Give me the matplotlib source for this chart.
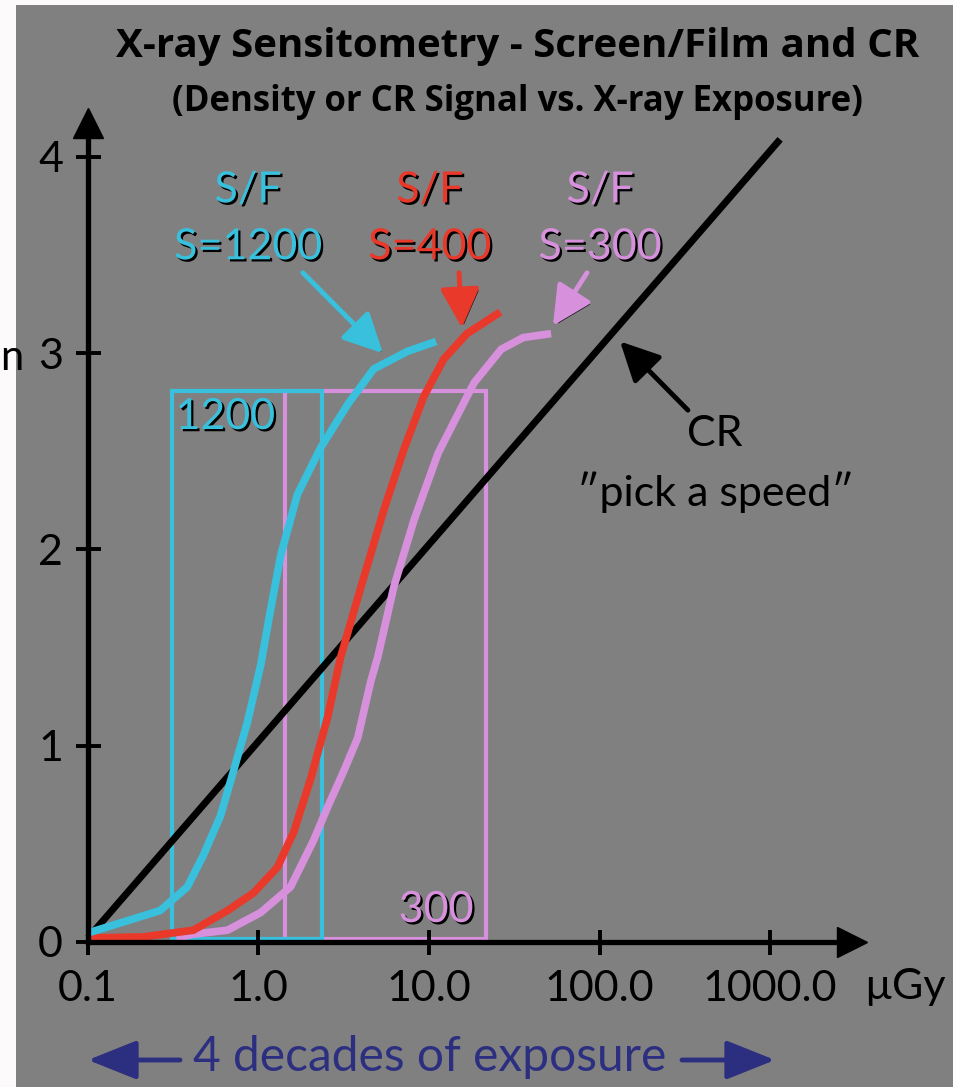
import numpy as np
import matplotlib
matplotlib.use("Agg")
import matplotlib.pyplot as plt
import matplotlib.patheffects as pe
from matplotlib.patches import Rectangle, FancyArrowPatch
from matplotlib.ticker import NullLocator

plt.rcParams['font.family'] = ['Lato', 'DejaVu Sans']

# exposure (uGy) and density / signal
cr_x = [0.1, 1146]
cr_y = [0.02, 4.09]

sf1200_x = [0.1, 0.265, 0.382, 0.474, 0.597, 0.713, 0.861, 1.03, 1.17, 1.35, 1.69, 2.32, 3.34, 4.74, 7.5, 11.0]
sf1200_y = [0.046, 0.16, 0.28, 0.44, 0.64, 0.87, 1.12, 1.41, 1.68, 1.97, 2.28, 2.52, 2.74, 2.92, 3.01, 3.06]

sf400_x = [0.1, 0.211, 0.415, 0.658, 0.935, 1.29, 1.61, 2.02, 2.55, 3.03, 4.15, 5.43, 7.12, 9.33, 12.2, 16.7, 26.2]
sf400_y = [0.02, 0.026, 0.06, 0.16, 0.25, 0.38, 0.56, 0.83, 1.15, 1.45, 1.86, 2.2, 2.51, 2.78, 2.97, 3.10, 3.21]

sf300_x = [0.33, 0.415, 0.658, 1.03, 1.54, 2.11, 2.55, 3.16, 3.82, 4.56, 5.0, 6.22, 8.17, 11.3, 14.8, 18.4, 26.5, 35.7, 52]
sf300_y = [0.02, 0.04, 0.06, 0.15, 0.28, 0.52, 0.69, 0.87, 1.04, 1.33, 1.45, 1.81, 2.15, 2.49, 2.69, 2.85, 3.02, 3.08, 3.10]

# latitude windows (exposure range, density range)
box1200_x = [0.311, 2.36]
box300_x = [1.43, 21.6]
box_y = [0.015, 2.81]

xticks = [0.1, 1, 10, 100, 1000]
xtick_labels = ['0.1', '1.0', '10.0', '100.0', '1000.0']
yticks = [0, 1, 2, 3, 4]

CYAN = '#38c0dc'
RED = '#e8392b'
PINK = '#d690dc'
GRAY = '#808080'
NAVY = '#2c2f80'

shadow = [pe.withSimplePatchShadow(offset=(1.6, -1.6), shadow_rgbFace='black', alpha=1.0)]

fig = plt.figure(figsize=(9.54, 10.87), dpi=100, facecolor='#fdfafb')
ax = fig.add_axes([0, 0, 1, 1])
ax.set_xscale('log')
ax.set_xlim(10 ** -1.516, 10 ** 4.079)
ax.set_ylim(-0.739, 4.800)
ax.set_facecolor('none')

ax.add_patch(Rectangle((16 / 954, 0), 1, 1 - 5 / 1087, transform=ax.transAxes,
                       facecolor=GRAY, edgecolor='none', zorder=0))

# axes drawn as arrows
for s in ['top', 'right']:
    ax.spines[s].set_visible(False)
ax.spines['left'].set_position(('data', 0.1))
ax.spines['left'].set_bounds(0, 4.15)
ax.spines['bottom'].set_position(('data', 0))
ax.spines['bottom'].set_bounds(0.1, 2600)
for s in ['left', 'bottom']:
    ax.spines[s].set_linewidth(3.8)
    ax.spines[s].set_zorder(3)
ax.plot([0.1], [4.173], marker='^', markersize=22, color='black', clip_on=False, zorder=3)
ax.plot([3027], [0.0], marker='>', markersize=22, color='black', clip_on=False, zorder=3)

ax.set_xticks(xticks)
ax.set_xticklabels(xtick_labels)
ax.xaxis.set_minor_locator(NullLocator())
ax.set_yticks(yticks)
ax.set_yticklabels([str(t) for t in yticks])
ax.tick_params(axis='both', direction='inout', length=18, width=2.8, labelsize=31, colors='black')
ax.tick_params(axis='x', pad=11)
ax.tick_params(axis='y', pad=9)
ax.tick_params(top=False, right=False)

# boxes
ax.add_patch(Rectangle((box300_x[0], box_y[0]), box300_x[1] - box300_x[0], box_y[1] - box_y[0],
                       fill=False, edgecolor=PINK, linewidth=3, zorder=1))
ax.add_patch(Rectangle((box1200_x[0], box_y[0]), box1200_x[1] - box1200_x[0], box_y[1] - box_y[0],
                       fill=False, edgecolor=CYAN, linewidth=3, zorder=1.1))

# curves
ax.plot(cr_x, cr_y, color='black', linewidth=5, zorder=2, solid_capstyle='butt')
ax.plot(sf300_x, sf300_y, color=PINK, linewidth=5.5, zorder=2.1, solid_capstyle='butt')
ax.plot(sf400_x, sf400_y, color=RED, linewidth=5.5, zorder=2.2, solid_capstyle='butt')
ax.plot(sf1200_x, sf1200_y, color=CYAN, linewidth=5.5, zorder=2.3, solid_capstyle='butt')

# labels
ax.text(0.637, 2.675, '1200', color=CYAN, fontsize=31, ha='center', va='center', path_effects=shadow)
ax.text(11.0, 0.163, '300', color=PINK, fontsize=31, ha='center', va='center', path_effects=shadow)

sf_labels = [(0.868, CYAN, 'S=1200'), (10.1, RED, 'S=400'), (100.7, PINK, 'S=300')]
for xpos, col, speed in sf_labels:
    ax.text(xpos, 3.83, 'S/F', color=col, fontsize=31, ha='center', va='center', path_effects=shadow)
    ax.text(xpos, 3.54, speed, color=col, fontsize=31, ha='center', va='center', path_effects=shadow)

arrows = [((1.82, 3.41), (5.37, 3.00), CYAN),
          ((15.0, 3.41), (15.6, 3.13), RED),
          ((84.5, 3.41), (53.3, 3.14), PINK),
          ((330, 2.71), (132, 3.06), 'black')]
for tail, tip, col in arrows:
    an = ax.annotate('', xy=tip, xytext=tail,
                     arrowprops=dict(arrowstyle='-|>,head_length=1.2,head_width=0.6',
                                     color=col, lw=3.5, shrinkA=0, shrinkB=0, mutation_scale=20),
                     zorder=4)
    if col != 'black':
        an.arrow_patch.set_path_effects(shadow)

ax.text(475, 2.59, 'CR', fontsize=31, ha='center', va='center', color='black')
ax.text(475, 2.29, '\u2033pick a speed\u2033', fontsize=31, ha='center', va='center', color='black')

fig.text(518 / 954, 1 - 47 / 1087, 'X-ray Sensitometry - Screen/Film and CR',
         fontsize=29, fontweight='bold', family=['Open Sans', 'DejaVu Sans'], ha='center', va='center')
fig.text(517 / 954, 1 - 102 / 1087, '(Density or CR Signal vs. X-ray Exposure)',
         fontsize=25, fontweight='bold', family=['Open Sans', 'DejaVu Sans'], ha='center', va='center')
fig.text(905 / 954, 1 - 987 / 1087, '\u00b5Gy', fontsize=31, ha='center', va='center')
fig.text(0, 1 - 358 / 1087, 'n', fontsize=30, ha='left', va='center')

fig.text(430 / 954, 1 - 1057 / 1087, '4 decades of exposure', fontsize=34.5,
         color=NAVY, ha='center', va='center')
for x0, x1 in [(180, 88), (682, 775)]:
    fig.add_artist(FancyArrowPatch(
        (x0 / 954, 1 - 1060 / 1087), (x1 / 954, 1 - 1060 / 1087), transform=fig.transFigure,
        arrowstyle='-|>,head_length=1.5,head_width=0.6', mutation_scale=20,
        color=NAVY, lw=3.5, shrinkA=0, shrinkB=0))

fig.savefig('out.png', dpi=100, facecolor=fig.get_facecolor())
